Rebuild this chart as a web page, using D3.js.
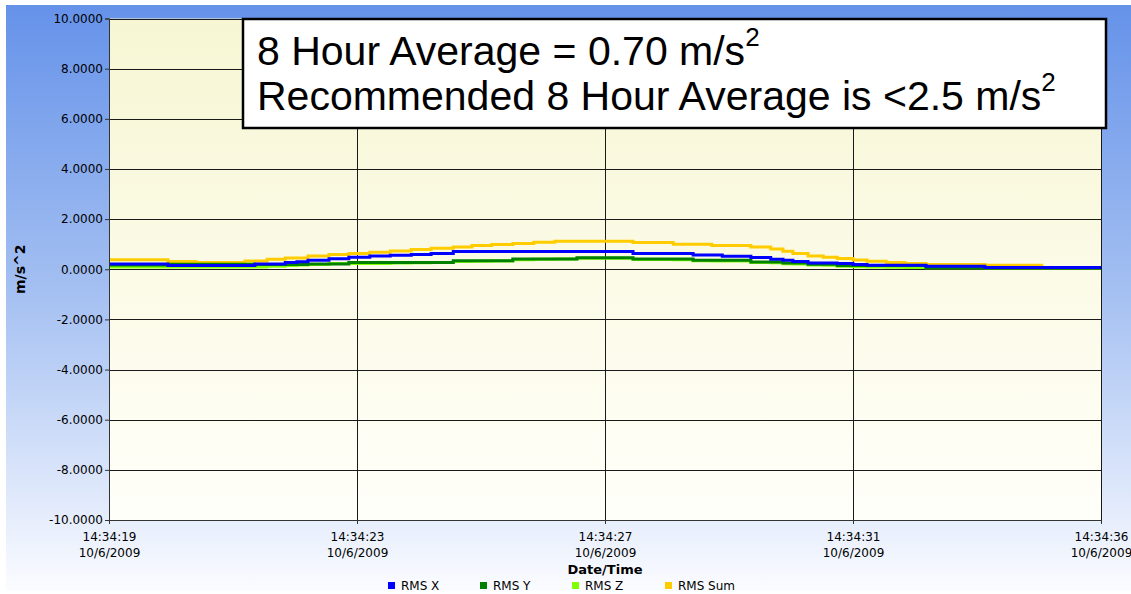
<!DOCTYPE html>
<html>
<head>
<meta charset="utf-8">
<script src="https://cdn.jsdelivr.net/npm/d3@7"></script>
<style>
    body { margin: 0; background: #ffffff; }
    #chart { width: 1131px; height: 594px; }
    .tahoma { font-family: "DejaVu Sans", Verdana, sans-serif; }
    .note { font-family: "Liberation Sans", Arial, sans-serif; }
</style>
</head>
<body>
<div id="chart"></div>
<script>

// seconds after 14:34:00 where a sample starts (step after)
var times = [19.00, 20.01, 20.49, 21.33, 21.50, 21.71, 22.02, 22.22, 22.41, 22.77, 23.11, 23.47, 23.82, 24.18,
    24.52, 24.90, 25.22, 25.56, 25.92, 26.28, 26.64, 27.02, 27.98, 28.67, 29.01, 29.33, 29.51, 30.00,
    30.34, 30.55, 30.72, 30.98, 31.24, 31.48, 31.75, 31.99, 32.32, 32.64, 33.00, 34.01, 35.01, 36.00];

var rmsX = [0.21, 0.15, 0.15, 0.15, 0.21, 0.21, 0.27, 0.30, 0.36, 0.42, 0.48, 0.53, 0.56, 0.59,
    0.63, 0.71, 0.71, 0.71, 0.71, 0.71, 0.71, 0.71, 0.63, 0.63, 0.57, 0.57, 0.52, 0.47,
    0.40, 0.36, 0.31, 0.25, 0.25, 0.23, 0.19, 0.16, 0.16, 0.16, 0.12, 0.07, 0.07, 0.07];

var rmsY = [0.17, 0.20, 0.20, 0.20, 0.19, 0.19, 0.19, 0.19, 0.21, 0.21, 0.27, 0.27, 0.27, 0.27,
    0.27, 0.34, 0.34, 0.34, 0.41, 0.41, 0.41, 0.46, 0.41, 0.41, 0.36, 0.36, 0.36, 0.29,
    0.29, 0.25, 0.25, 0.20, 0.20, 0.15, 0.15, 0.15, 0.15, 0.15, 0.06, 0.05, 0.05, 0.05];

var rmsZ = [0.09, 0.09, 0.09, 0.09, 0.09, 0.12, 0.15, 0.17, 0.19, 0.23, 0.23, 0.23, 0.25, 0.26,
    0.27, 0.31, 0.32, 0.33, 0.38, 0.40, 0.41, 0.44, 0.39, 0.38, 0.34, 0.33, 0.33, 0.27,
    0.26, 0.22, 0.21, 0.17, 0.16, 0.12, 0.10, 0.09, 0.08, 0.07, 0.06, 0.05, 0.05, 0.05];

var rmsSum = [0.38, 0.31, 0.27, 0.33, 0.33, 0.40, 0.45, 0.45, 0.53, 0.59, 0.63, 0.68, 0.73, 0.79,
    0.84, 0.89, 0.95, 0.99, 1.03, 1.08, 1.12, 1.12, 1.07, 1.00, 1.00, 0.95, 0.95, 0.89,
    0.81, 0.72, 0.63, 0.53, 0.48, 0.43, 0.37, 0.32, 0.27, 0.23, 0.19, 0.16, 0.16, null];

var seriesNames = ["RMS X", "RMS Y", "RMS Z", "RMS Sum"];
var seriesColors = ["#0000ff", "#008000", "#80ff00", "#ffcc00"];

var xTickValues = [19, 23.25, 27.5, 31.75, 36];
var xTickLabels = ["14:34:19", "14:34:23", "14:34:27", "14:34:31", "14:34:36"];
var xTickDate = "10/6/2009";
var yTickValues = [-10, -8, -6, -4, -2, 0, 2, 4, 6, 8, 10];

var noteLine1 = "8 Hour Average = 0.70 m/s";
var noteLine2 = "Recommended 8 Hour Average is <2.5 m/s";


var width = 1131;
var height = 594;
var margin = {left: 109, right: 30, top: 18.5, bottom: 74};

var svg = d3.select("#chart")
    .append("svg")
    .attr("width", width)
    .attr("height", height);

var defs = svg.append("defs");

var bgGrad = defs.append("linearGradient")
    .attr("id", "bgGrad")
    .attr("x1", 0).attr("y1", 0).attr("x2", 0).attr("y2", 1);
bgGrad.append("stop").attr("offset", "0%").attr("stop-color", "#6592e9");
bgGrad.append("stop").attr("offset", "50%").attr("stop-color", "#a6c1f2");
bgGrad.append("stop").attr("offset", "100%").attr("stop-color", "#fbfcff");

var plotGrad = defs.append("linearGradient")
    .attr("id", "plotGrad")
    .attr("x1", 0).attr("y1", 0).attr("x2", 0).attr("y2", 1);
plotGrad.append("stop").attr("offset", "0%").attr("stop-color", "#f7f6d3");
plotGrad.append("stop").attr("offset", "100%").attr("stop-color", "#fffffa");

// panel background
svg.append("rect")
    .attr("x", 6)
    .attr("y", 5)
    .attr("width", width - 6)
    .attr("height", 586)
    .attr("fill", "url(#bgGrad)");

var x = d3.scaleLinear()
    .domain([19, 36])
    .range([margin.left, width - margin.right]);

var y = d3.scaleLinear()
    .domain([-10, 10])
    .range([height - margin.bottom, margin.top]);

svg.append("rect")
    .attr("x", x(19))
    .attr("y", y(10))
    .attr("width", x(36) - x(19))
    .attr("height", y(-10) - y(10))
    .attr("fill", "url(#plotGrad)");

// grid
svg.append("g")
    .selectAll("line")
    .data(yTickValues)
    .enter()
    .append("line")
        .attr("x1", x(19))
        .attr("x2", x(36))
        .attr("y1", function(d) { return Math.round(y(d)) + 0.5; })
        .attr("y2", function(d) { return Math.round(y(d)) + 0.5; })
        .attr("stroke", "#1a1a1a")
        .attr("stroke-width", 1);

svg.append("g")
    .selectAll("line")
    .data(xTickValues)
    .enter()
    .append("line")
        .attr("x1", function(d) { return Math.round(x(d)) + 0.5; })
        .attr("x2", function(d) { return Math.round(x(d)) + 0.5; })
        .attr("y1", y(10))
        .attr("y2", y(-10))
        .attr("stroke", "#1a1a1a")
        .attr("stroke-width", 1);

// series
var allSeries = [rmsX, rmsY, rmsZ, rmsSum];
var drawOrder = [3, 2, 1, 0];

var line = d3.line()
    .defined(function(d) { return d.v !== null; })
    .x(function(d) { return x(d.t); })
    .y(function(d) { return y(d.v); })
    .curve(d3.curveStepAfter);

drawOrder.forEach(function(i) {
    var pts = times.map(function(t, j) {
        return {t: t, v: allSeries[i][j]};
    });
    svg.append("path")
        .datum(pts)
        .attr("fill", "none")
        .attr("stroke", seriesColors[i])
        .attr("stroke-width", 3)
        .attr("d", line);
});

// axes
var fmt = d3.format(".4f");

var yAxis = svg.append("g")
    .attr("class", "tahoma")
    .attr("transform", "translate(" + x(19) + ",0)")
    .call(d3.axisLeft(y)
        .tickValues(yTickValues)
        .tickSize(4)
        .tickPadding(2)
        .tickFormat(function(d) { return fmt(d).replace("\u2212", "-"); }));

yAxis.select(".domain").attr("stroke", "#333");
yAxis.selectAll(".tick line").attr("stroke", "#333");
yAxis.selectAll("text")
    .style("font-family", "DejaVu Sans")
    .style("font-size", "12px")
    .attr("fill", "#000");

var xAxis = svg.append("g")
    .attr("transform", "translate(0," + y(-10) + ")")
    .call(d3.axisBottom(x)
        .tickValues(xTickValues)
        .tickSize(4)
        .tickFormat(""));

xAxis.select(".domain").attr("stroke", "#333");
xAxis.selectAll(".tick line").attr("stroke", "#333");

xAxis.selectAll(".tick")
    .append("text")
        .attr("fill", "#000")
        .style("font-family", "DejaVu Sans")
        .style("font-size", "12px")
        .attr("text-anchor", "middle")
        .attr("y", 21)
        .each(function(d, i) {
            var t = d3.select(this);
            t.append("tspan").attr("x", 0).text(xTickLabels[i]);
            t.append("tspan").attr("x", 0).attr("dy", 16).text(xTickDate);
        });

// axis titles
svg.append("text")
    .attr("class", "tahoma")
    .attr("transform", "translate(25," + y(0) + ") rotate(-90)")
    .attr("text-anchor", "middle")
    .style("font-size", "14px")
    .style("font-weight", "bold")
    .text("m/s^2");

svg.append("text")
    .attr("class", "tahoma")
    .attr("x", x(27.5))
    .attr("y", 574)
    .attr("text-anchor", "middle")
    .style("font-size", "13px")
    .style("font-weight", "bold")
    .text("Date/Time");

// legend
var legendX = [388, 480, 572, 665];

var legend = svg.append("g")
    .attr("class", "tahoma")
    .selectAll("g")
    .data(seriesNames)
    .enter()
    .append("g")
        .attr("transform", function(d, i) { return "translate(" + legendX[i] + ",582)"; });

legend.append("rect")
    .attr("width", 7)
    .attr("height", 7)
    .attr("fill", function(d, i) { return seriesColors[i]; });

legend.append("text")
    .attr("x", 13)
    .attr("y", 8)
    .style("font-size", "12px")
    .text(function(d) { return d; });

// note box
var note = svg.append("g").attr("class", "note");

note.append("rect")
    .attr("x", 243)
    .attr("y", 19)
    .attr("width", 863)
    .attr("height", 109)
    .attr("fill", "#ffffff")
    .attr("stroke", "#000")
    .attr("stroke-width", 2.5);

var l1 = note.append("text")
    .attr("x", 257)
    .attr("y", 65)
    .style("font-size", "41px");
l1.append("tspan").text(noteLine1);
l1.append("tspan").style("font-size", "26px").attr("dy", -19).text("2");

var l2 = note.append("text")
    .attr("x", 257)
    .attr("y", 110)
    .style("font-size", "41px");
l2.append("tspan").text(noteLine2);
l2.append("tspan").style("font-size", "26px").attr("dy", -19).text("2");

</script>
</body>
</html>
